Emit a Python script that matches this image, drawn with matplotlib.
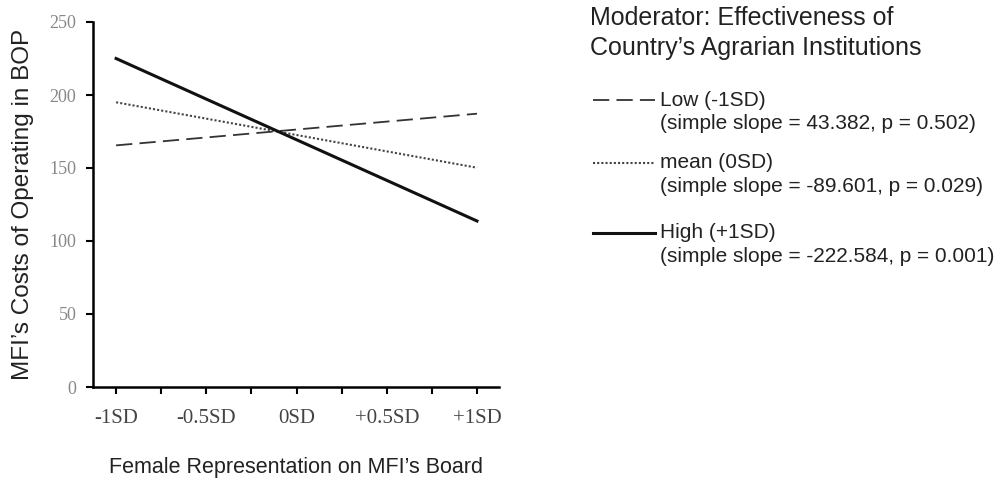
import matplotlib
matplotlib.use('Agg')
import matplotlib.pyplot as plt
from matplotlib.lines import Line2D

# niveis do moderador (-1SD .. +1SD)
x_pontos = [-1, 1]
custos_low = [165.5, 187.2]
custos_mean = [195.0, 150.2]
custos_high = [225.0, 113.7]

x_ticks = [-1, -0.75, -0.5, -0.25, 0, 0.25, 0.5, 0.75, 1]
x_labels = ['-1SD', '', '-0.5SD', '', '0SD', '', '+0.5SD', '', '+1SD']
y_ticks = [0, 50, 100, 150, 200, 250]

rotulos = ['Low (-1SD)', 'mean (0SD)', 'High (+1SD)']
estatisticas = ['(simple slope = 43.382, p = 0.502)',
                '(simple slope = -89.601, p = 0.029)',
                '(simple slope = -222.584, p = 0.001)']
titulo_legenda = ['Moderator: Effectiveness of', 'Country\u2019s Agrarian Institutions']

estilos = [dict(linestyle=(0, (9, 4)), linewidth=1.3, color='#333333'),
           dict(linestyle=(0, (1, 1)), linewidth=1.5, color='#444444'),
           dict(linestyle='-', linewidth=2.2, color='#111111')]

fig = plt.figure(figsize=(10.06, 4.84), dpi=100)
ax = fig.add_axes([93/1006, 1 - 387/484, 406/1006, 365/484])

for serie, est in zip([custos_low, custos_mean, custos_high], estilos):
    ax.plot(x_pontos, serie, **est)

ax.set_xlim(-1.128, 1.122)
ax.set_ylim(0, 250)
ax.set_xticks(x_ticks)
ax.set_xticklabels(x_labels, family='Liberation Serif', fontsize=15, color='#444444')
ax.set_yticks(y_ticks)
ax.set_yticklabels([str(v) for v in y_ticks], family='Liberation Serif', fontsize=13, color='#888888')
for lado in ['top', 'right']:
    ax.spines[lado].set_visible(False)
for lado in ['left', 'bottom']:
    ax.spines[lado].set_linewidth(1.8)
ax.tick_params(axis='both', direction='out', length=5, width=1.5)
ax.tick_params(axis='x', pad=11)
ax.tick_params(axis='y', pad=7)

ax.set_ylabel('MFI\u2019s Costs of Operating in BOP', family='Liberation Sans', fontsize=17.5, color='#222222', labelpad=11)
ax.set_xlabel('Female Representation on MFI\u2019s Board', family='Liberation Sans', fontsize=15.5, color='#222222', labelpad=21)

# legenda manual
W, H = 1006, 484
for linha, yy in zip(titulo_legenda, [18, 48]):
    fig.text(590/W, 1 - yy/H, linha, family='Liberation Sans', fontsize=18,
             color='#222222', va='center', ha='left')
linhas_y = [100, 163, 233]
for i in range(3):
    yy = 1 - linhas_y[i]/H
    fig.add_artist(Line2D([593/W, 655/W], [yy, yy], transform=fig.transFigure, **estilos[i]))
    fig.text(660/W, yy, rotulos[i], family='Liberation Sans', fontsize=15, color='#222222', va='center')
    fig.text(660/W, yy - 23.5/H, estatisticas[i], family='Liberation Sans', fontsize=15, color='#222222', va='center')

plt.savefig('out.png', dpi=100)
